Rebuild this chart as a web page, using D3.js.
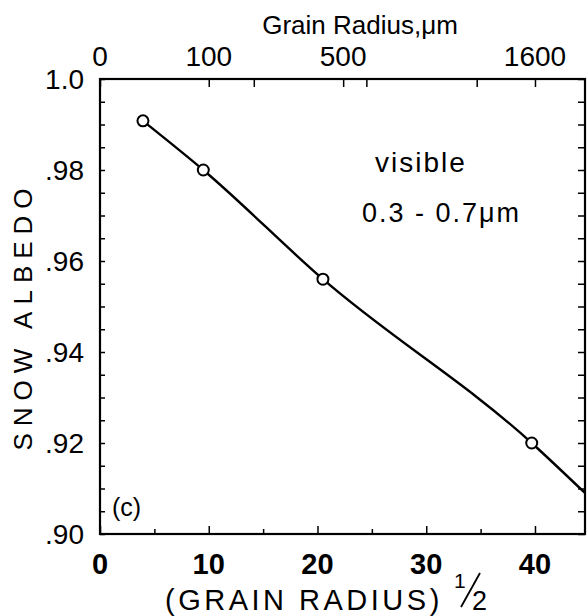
<!DOCTYPE html>
<html><head><meta charset="utf-8">
<script src="https://cdn.jsdelivr.net/npm/d3@7"></script>
<style>
body{margin:0;background:#fff;}
text{font-family:"Liberation Sans",Arial,sans-serif;fill:#000;}
</style></head>
<body><svg id="c" width="587" height="616"></svg>
<script>
// data: x = sqrt(grain radius), y = snow albedo
const pointX = [3.95, 9.5, 20.5, 39.7];
const pointY = [0.9908, 0.9800, 0.9560, 0.9200];
const lineX = [3.95, 9.5, 20.5, 39.7, 44.6];
const lineY = [0.9908, 0.9800, 0.9560, 0.9200, 0.9090];
const bottomTicks = [0, 10, 20, 30, 40];
const topTickLabels = [0, 100, 500, 1600];
const topMinorTicks = [200, 600, 1200];
const yTicks = [0.90, 0.92, 0.94, 0.96, 0.98, 1.0];
const yTickLabels = [".90", ".92", ".94", ".96", ".98", "1.0"];

const svg = d3.select("#c");
const L = 100, R = 585, T = 79, B = 534;
const x = d3.scaleLinear().domain([0, 44.6]).range([L, R]);
const y = d3.scaleLinear().domain([0.90, 1.0]).range([B, T]);

const g = svg.append("g");
g.append("rect").attr("x", L).attr("y", T).attr("width", R - L).attr("height", B - T)
  .attr("fill", "none").attr("stroke", "#000").attr("stroke-width", 2.2);

// bottom axis ticks (inward)
const bAxis = d3.axisBottom(x).tickValues(d3.range(0, 45, 5)).tickSize(-6).tickFormat("");
g.append("g").attr("transform", `translate(0,${B})`).call(bAxis)
  .call(s => s.select(".domain").remove())
  .call(s => s.selectAll("line").attr("stroke-width", 1.5)
     .attr("y2", d => d % 10 === 0 ? -8 : -5));
bottomTicks.forEach(v => {
  g.append("text").attr("x", x(v)).attr("y", 574).attr("text-anchor", "middle")
   .attr("font-size", 29).attr("font-weight", "bold").text(v);
});

// top axis
const tAxis = d3.axisTop(x).tickValues(topTickLabels.concat(topMinorTicks).map(Math.sqrt)).tickSize(-8).tickFormat("");
g.append("g").attr("transform", `translate(0,${T})`).call(tAxis)
  .call(s => s.select(".domain").remove())
  .call(s => s.selectAll("line").attr("stroke-width", 1.5));
topTickLabels.forEach(v => {
  g.append("text").attr("x", x(Math.sqrt(v))).attr("y", 66).attr("text-anchor", "middle")
   .attr("font-size", 28).text(v);
});
svg.append("text").attr("x", 360).attr("y", 34).attr("text-anchor", "middle")
  .attr("font-size", 26).text("Grain Radius,\u03BCm");

// left & right axes ticks
const yAll = d3.range(0.90, 1.0001, 0.005);
const lAxis = d3.axisLeft(y).tickValues(yAll).tickSize(-5).tickFormat("");
g.append("g").attr("transform", `translate(${L},0)`).call(lAxis)
  .call(s => s.select(".domain").remove())
  .call(s => s.selectAll("line").attr("stroke-width", 1.5));
const rAxis = d3.axisRight(y).tickValues(yAll).tickSize(-7).tickFormat("");
g.append("g").attr("transform", `translate(${R},0)`).call(rAxis)
  .call(s => s.select(".domain").remove())
  .call(s => s.selectAll("line").attr("stroke-width", 1.5));
yTicks.forEach((v, i) => {
  g.append("text").attr("x", 84).attr("y", y(v) + 10).attr("text-anchor", "end")
   .attr("font-size", 28).text(yTickLabels[i]);
});

svg.append("text").attr("transform", "translate(32,316) rotate(-90)")
  .attr("text-anchor", "middle").attr("font-size", 26).attr("letter-spacing", 7)
  .text("SNOW ALBEDO");

svg.append("text").attr("x", 165).attr("y", 610)
  .attr("font-size", 29).attr("letter-spacing", 3.5).text("(GRAIN RADIUS)");
svg.append("text").attr("x", 454).attr("y", 588).attr("font-size", 21).text("1");
svg.append("line").attr("x1", 461).attr("y1", 607).attr("x2", 480).attr("y2", 573)
  .attr("stroke", "#000").attr("stroke-width", 1.8);
svg.append("text").attr("x", 472).attr("y", 610).attr("font-size", 27).text("2");

// annotations
svg.append("text").attr("x", 375).attr("y", 172)
  .attr("font-size", 28).attr("letter-spacing", 2).text("visible");
svg.append("text").attr("x", 362).attr("y", 222)
  .attr("font-size", 27).attr("letter-spacing", 2).text("0.3 - 0.7\u03BCm");
svg.append("text").attr("x", 112).attr("y", 516).attr("font-size", 25).text("(c)");

// line
const line = d3.line().x(d => x(d[0])).y(d => y(d[1])).curve(d3.curveMonotoneX);
svg.append("path").datum(lineX.map((v, i) => [v, lineY[i]]))
  .attr("d", line).attr("fill", "none").attr("stroke", "#000").attr("stroke-width", 2.4);

// points
svg.selectAll("circle.p").data(pointX.map((v, i) => [v, pointY[i]])).enter()
  .append("circle").attr("class", "p").attr("cx", d => x(d[0])).attr("cy", d => y(d[1]))
  .attr("r", 5.5).attr("fill", "#fff").attr("stroke", "#000").attr("stroke-width", 2);
</script></body></html>
